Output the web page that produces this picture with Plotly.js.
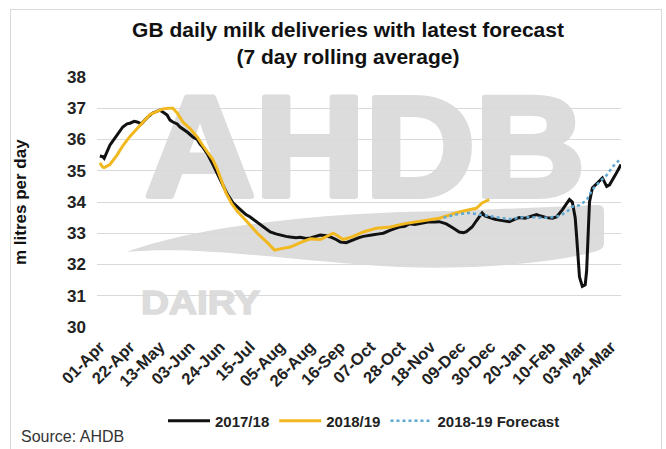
<!DOCTYPE html>
<html>
<head>
<meta charset="utf-8">
<script src="https://cdn.plot.ly/plotly-3.0.1.min.js"></script>
<style>html,body{margin:0;padding:0;background:#fff;}#chart{width:666px;height:449px;}</style>
</head>
<body>
<div id="chart"></div>
<script>
// Common day axis (Apr to Mar), shown as day-month labels
const dates1718 = ['2018-04-01','2018-04-03','2018-04-04','2018-04-06','2018-04-08','2018-04-10','2018-04-13','2018-04-17','2018-04-20','2018-04-22','2018-04-25','2018-04-27','2018-04-30','2018-05-02','2018-05-04','2018-05-08','2018-05-11','2018-05-13','2018-05-16','2018-05-18','2018-05-20','2018-05-22','2018-05-25','2018-05-27','2018-06-01','2018-06-05','2018-06-08','2018-06-10','2018-06-12','2018-06-15','2018-06-19','2018-06-22','2018-06-26','2018-06-29','2018-07-03','2018-07-08','2018-07-12','2018-07-15','2018-07-19','2018-07-22','2018-07-26','2018-07-29','2018-08-02','2018-08-05','2018-08-09','2018-08-12','2018-08-16','2018-08-19','2018-08-23','2018-08-26','2018-08-30','2018-09-02','2018-09-06','2018-09-09','2018-09-13','2018-09-16','2018-09-20','2018-09-25','2018-09-29','2018-10-02','2018-10-06','2018-10-09','2018-10-13','2018-10-16','2018-10-21','2018-10-27','2018-10-31','2018-11-03','2018-11-07','2018-11-10','2018-11-14','2018-11-17','2018-11-21','2018-11-24','2018-11-29','2018-12-02','2018-12-04','2018-12-08','2018-12-11','2018-12-13','2018-12-17','2018-12-20','2018-12-22','2018-12-24','2018-12-26','2018-12-29','2019-01-02','2019-01-05','2019-01-09','2019-01-12','2019-01-16','2019-01-19','2019-01-23','2019-01-26','2019-01-31','2019-02-03','2019-02-07','2019-02-11','2019-02-14','2019-02-18','2019-02-21','2019-02-23','2019-02-25','2019-02-27','2019-02-28','2019-03-02','2019-03-04','2019-03-06','2019-03-07','2019-03-08','2019-03-09','2019-03-11','2019-03-14','2019-03-18','2019-03-21','2019-03-23','2019-03-27','2019-03-31'];
const values1718 = [35.47,35.45,35.40,35.60,35.82,35.95,36.14,36.40,36.50,36.52,36.58,36.56,36.50,36.60,36.70,36.85,36.90,36.94,36.85,36.78,36.62,36.56,36.50,36.40,36.24,36.08,36.00,35.85,35.75,35.55,35.20,34.90,34.50,34.25,33.97,33.75,33.60,33.52,33.38,33.26,33.12,33.04,32.98,32.94,32.90,32.88,32.86,32.87,32.83,32.85,32.90,32.94,32.92,32.88,32.80,32.72,32.70,32.80,32.86,32.90,32.92,32.95,32.98,33.00,33.10,33.20,33.22,33.30,33.28,33.30,33.35,33.37,33.36,33.37,33.30,33.20,33.16,33.04,33.02,33.05,33.20,33.40,33.52,33.65,33.55,33.50,33.45,33.42,33.40,33.37,33.45,33.50,33.48,33.52,33.60,33.55,33.50,33.48,33.52,33.75,33.95,34.08,34.00,33.50,32.90,31.60,31.30,31.35,31.80,32.80,34.00,34.45,34.60,34.77,34.50,34.55,34.86,35.20];

const dates1819 = ['2018-04-01','2018-04-03','2018-04-04','2018-04-06','2018-04-08','2018-04-13','2018-04-17','2018-04-22','2018-04-27','2018-05-01','2018-05-06','2018-05-11','2018-05-15','2018-05-19','2018-05-22','2018-05-25','2018-05-29','2018-06-03','2018-06-08','2018-06-12','2018-06-19','2018-06-22','2018-06-28','2018-07-02','2018-07-06','2018-07-13','2018-07-20','2018-07-27','2018-08-01','2018-08-05','2018-08-12','2018-08-19','2018-08-26','2018-09-02','2018-09-06','2018-09-11','2018-09-14','2018-09-18','2018-09-25','2018-10-02','2018-10-11','2018-10-21','2018-10-30','2018-11-08','2018-11-17','2018-11-24','2018-12-01','2018-12-08','2018-12-15','2018-12-20','2018-12-24','2018-12-29'];
const values1819 = [35.25,35.12,35.10,35.15,35.20,35.50,35.80,36.10,36.35,36.55,36.80,36.90,36.98,37.00,37.00,36.85,36.56,36.35,36.08,35.80,35.35,35.05,34.30,33.95,33.70,33.36,33.00,32.70,32.46,32.50,32.56,32.70,32.82,32.80,32.90,33.00,32.92,32.80,32.90,33.04,33.16,33.20,33.30,33.37,33.42,33.48,33.58,33.68,33.75,33.80,33.97,34.08];

const datesForecast = ['2018-11-27','2018-12-01','2018-12-08','2018-12-15','2018-12-22','2018-12-29','2019-01-05','2019-01-12','2019-01-19','2019-01-26','2019-02-02','2019-02-09','2019-02-16','2019-02-21','2019-02-25','2019-03-02','2019-03-07','2019-03-11','2019-03-16','2019-03-21','2019-03-25','2019-03-30'];
const valuesForecast = [33.50,33.55,33.62,33.65,33.60,33.55,33.50,33.45,33.50,33.52,33.50,33.50,33.55,33.68,33.85,33.90,34.06,34.40,34.64,34.86,35.12,35.35];

const seriesNames = ['2017/18','2018/19','2018-19 Forecast'];
const yTicks = [30,31,32,33,34,35,36,37,38];

const FONT = 'Liberation Sans, Arial, sans-serif';

const wm = '<svg xmlns="http://www.w3.org/2000/svg" width="666" height="449" viewBox="0 0 666 449">' +
  '<rect x="10.5" y="9.5" width="651" height="470" fill="none" stroke="#d9d9d9" stroke-width="1"/>' +
  '<text x="145" y="196" font-family="Liberation Sans, Arial" font-weight="bold" font-size="143" textLength="440" lengthAdjust="spacingAndGlyphs" fill="#dcdcdc" stroke="#dcdcdc" stroke-width="6" stroke-linejoin="round">AHDB</text>' +
  '<text x="141" y="314" font-family="Liberation Sans, Arial" font-weight="bold" font-size="34" textLength="119" lengthAdjust="spacingAndGlyphs" fill="#dcdcdc" stroke="#dcdcdc" stroke-width="1.5">DAIRY</text>' +
  '<path d="M127,252 C200,225 330,212 450,211 L598,205 Q604,205 604,211 L604,243 Q604,249 597,251 C560,262 480,270 400,267 C300,262 200,245 127,252 Z" fill="#dcdcdc"/>' +
  '</svg>';
const wmSrc = 'data:image/svg+xml;charset=utf-8,' + encodeURIComponent(wm);

const L = 97, R = 45, T = 77, B = 122, W = 666, H = 449;
const pw = W - L - R, ph = H - T - B;
const px = v => (v - L) / pw;
const py = v => (H - B - v) / ph;

const traces = [
  {x: dates1718, y: values1718, name: seriesNames[0], type: 'scatter', mode: 'lines',
   line: {color: '#111111', width: 3}},
  {x: dates1819, y: values1819, name: seriesNames[1], type: 'scatter', mode: 'lines',
   line: {color: '#f2b820', width: 3}},
  {x: datesForecast, y: valuesForecast, name: seriesNames[2], type: 'scatter', mode: 'lines',
   line: {color: '#5fa8d3', width: 2.5, dash: 'dot'}}
];

const layout = {
  width: W, height: H,
  margin: {l: L, r: R, t: T, b: B},
  paper_bgcolor: '#ffffff',
  plot_bgcolor: 'rgba(0,0,0,0)',
  font: {family: FONT, color: '#222222'},
  showlegend: true,
  title: {
    text: 'GB daily milk deliveries with latest forecast<br>(7 day rolling average)',
    font: {family: FONT, size: 21, weight: 'bold', color: '#111111'},
    x: 348 / W, xanchor: 'center', xref: 'container',
    y: 1 - 37 / H, yanchor: 'top', yref: 'container'
  },
  xaxis: {
    type: 'date',
    range: ['2018-03-30', '2019-03-31'],
    tick0: '2018-04-01',
    dtick: 21 * 86400000,
    tickformat: '%d-%b',
    tickangle: -45,
    showgrid: false, zeroline: false, showline: false,
    ticks: '',
    ticklabelstandoff: 6,
    tickfont: {family: FONT, size: 16.5, weight: 'bold', color: '#222222'}
  },
  yaxis: {
    range: [30, 38],
    tickvals: yTicks,
    showgrid: true, gridcolor: '#d9d9d9', gridwidth: 1,
    zeroline: false, showline: false, ticks: '',
    ticklabelstandoff: 10,
    tickfont: {family: FONT, size: 17, weight: 'bold', color: '#222222'}
  },
  legend: {
    orientation: 'h',
    x: px(364), xanchor: 'center',
    y: py(421), yanchor: 'middle',
    itemwidth: 42,
    font: {family: FONT, size: 15, weight: 'bold', color: '#222222'},
    bgcolor: 'rgba(0,0,0,0)'
  },
  images: [{
    source: wmSrc, xref: 'paper', yref: 'paper',
    x: px(0), y: 1 + T / ph, sizex: W / pw, sizey: H / ph,
    xanchor: 'left', yanchor: 'top', sizing: 'stretch', layer: 'below'
  }],
  annotations: [
    {text: 'm litres per day', xref: 'paper', yref: 'paper', x: px(20), y: py(202),
     textangle: -90, showarrow: false, xanchor: 'center', yanchor: 'middle',
     font: {family: FONT, size: 17, weight: 'bold', color: '#111111'}},
    {text: 'Source: AHDB', xref: 'paper', yref: 'paper', x: px(19), y: py(436),
     showarrow: false, xanchor: 'left', yanchor: 'middle',
     font: {family: FONT, size: 16, color: '#333333'}}
  ]
};

Plotly.newPlot('chart', traces, layout, {displayModeBar: false, staticPlot: true});
</script>
</body>
</html>
